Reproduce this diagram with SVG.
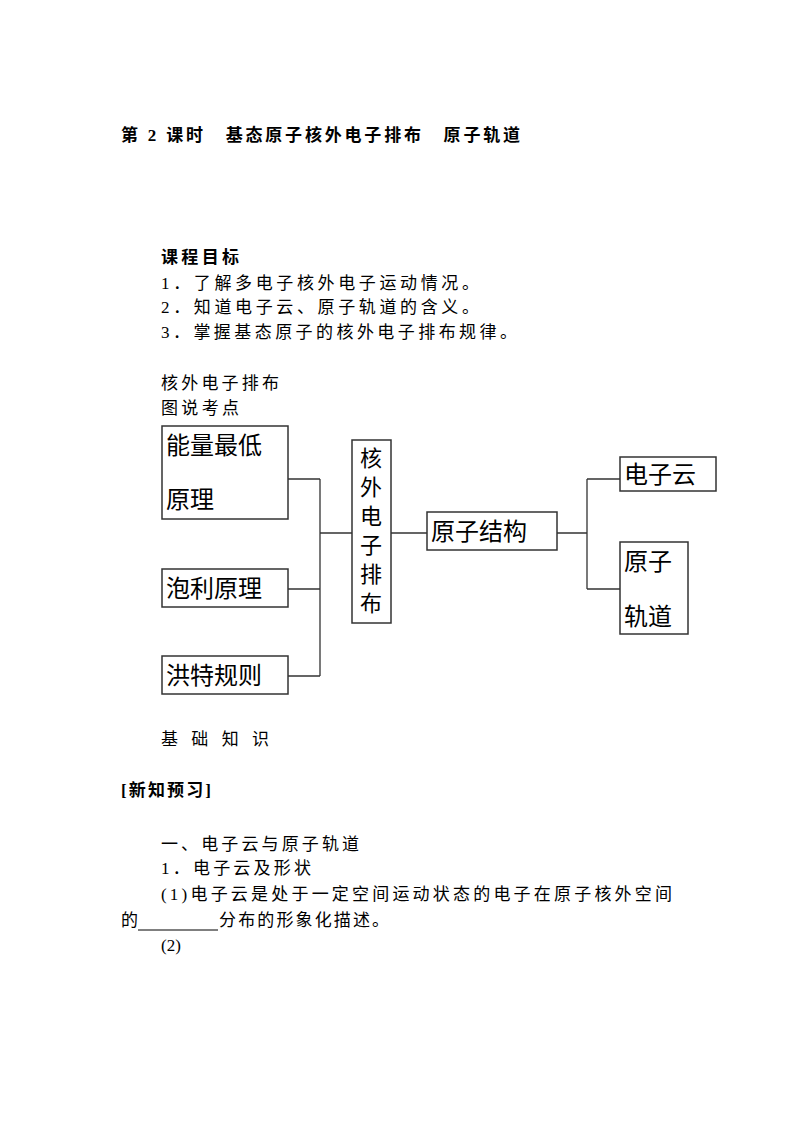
<svg xmlns="http://www.w3.org/2000/svg" width="794" height="1123" viewBox="0 0 794 1123">
<style>
text{font-family:"Liberation Serif","Noto Sans CJK SC",serif;fill:#000}
.t{font-size:17px}
.b{font-weight:bold}
.n{font-size:24px;font-family:"Noto Sans CJK SC",sans-serif}
.v{font-size:22px;font-family:"Noto Sans CJK SC",sans-serif}
rect{fill:#fff;stroke:#333;stroke-width:1.5}
#connectors path{fill:none;stroke:#333;stroke-width:1.3}
</style>
<rect x="0" y="0" width="794" height="1123" style="fill:#fff;stroke:none"/>
<text x="121" y="141" class="t b" textLength="399" lengthAdjust="spacing">第 2 课时　基态原子核外电子排布　原子轨道</text>
<text x="161" y="263" class="t b" textLength="78" lengthAdjust="spacing">课程目标</text>
<text x="161" y="289" class="t" textLength="318" lengthAdjust="spacing">1．了解多电子核外电子运动情况。</text>
<text x="161" y="313" class="t" textLength="318" lengthAdjust="spacing">2．知道电子云、原子轨道的含义。</text>
<text x="161" y="338" class="t" textLength="356" lengthAdjust="spacing">3．掌握基态原子的核外电子排布规律。</text>
<text x="161" y="389" class="t" textLength="118" lengthAdjust="spacing">核外电子排布</text>
<text x="161" y="414" class="t" textLength="78" lengthAdjust="spacing">图说考点</text>
<g id="connectors">
<path d="M288 479H320M288 589H320M288 676H320M320 479V676M320 533H352M391 533H427M557 533H587M587 479V589M587 479H620M587 589H620"/>
</g>
<g id="n1"><rect x="162" y="426" width="126" height="93"/><text x="166" y="454" class="n">能量最低</text><text x="166" y="508" class="n">原理</text></g>
<g id="n2"><rect x="162" y="569" width="126" height="38"/><text x="166" y="597" class="n">泡利原理</text></g>
<g id="n3"><rect x="162" y="656" width="126" height="38"/><text x="166" y="684" class="n">洪特规则</text></g>
<g id="n4"><rect x="352" y="440" width="39" height="183"/>
<text x="360" y="466" class="v">核</text><text x="360" y="495" class="v">外</text><text x="360" y="524" class="v">电</text><text x="360" y="553" class="v">子</text><text x="360" y="582" class="v">排</text><text x="360" y="611" class="v">布</text></g>
<g id="n5"><rect x="427" y="512" width="130" height="38"/><text x="431" y="540" class="n">原子结构</text></g>
<g id="n6"><rect x="620" y="457" width="96" height="34"/><text x="624" y="483" class="n">电子云</text></g>
<g id="n7"><rect x="620" y="542" width="68" height="92"/><text x="624" y="570" class="n">原子</text><text x="624" y="625" class="n">轨道</text></g>
<text x="161" y="745" class="t" textLength="108" lengthAdjust="spacing">基 础 知 识</text>
<text x="121" y="796" class="t b" textLength="90" lengthAdjust="spacing">[新知预习]</text>
<text x="161" y="850" class="t" textLength="198" lengthAdjust="spacing">一、电子云与原子轨道</text>
<text x="161" y="874" class="t" textLength="150" lengthAdjust="spacing">1．电子云及形状</text>
<text x="161" y="900" class="t" textLength="511" lengthAdjust="spacing">(1)电子云是处于一定空间运动状态的电子在原子核外空间</text>
<text x="121" y="926" class="t">的</text>
<path d="M138 930H218" stroke="#000" stroke-width="1"/>
<text x="219" y="926" class="t" textLength="170" lengthAdjust="spacing">分布的形象化描述。</text>
<text x="161" y="951" class="t">(2)</text>
</svg>
